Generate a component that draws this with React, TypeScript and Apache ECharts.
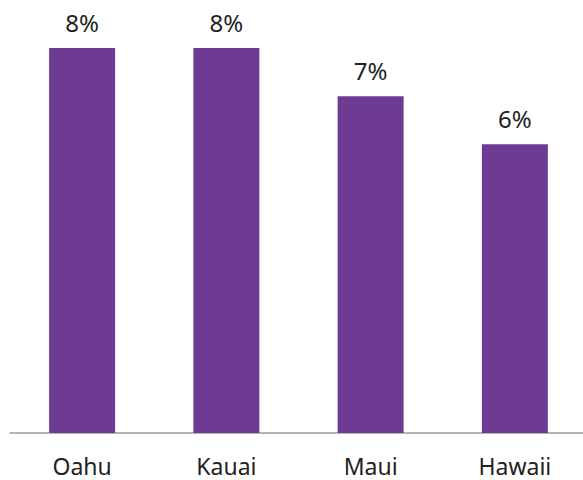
import React, { useEffect, useRef } from "react";
import * as echarts from "echarts";

const categories = ["Oahu", "Kauai", "Maui", "Hawaii"];
const values = [8, 8, 7, 6];

export default function App() {
  const ref = useRef<HTMLDivElement>(null);
  useEffect(() => {
    if (!ref.current) return;
    const chart = echarts.init(ref.current, null, { renderer: "svg" });
    chart.setOption({
      animation: false,
      backgroundColor: "#ffffff",
      grid: { left: 10, right: 0, top: 48, bottom: 47, containLabel: false },
      xAxis: {
        type: "category",
        data: categories,
        axisLine: { lineStyle: { color: "#9a9a9a", width: 1.5 } },
        axisTick: { show: false },
        axisLabel: {
          color: "#222",
          fontSize: 23,
          fontFamily: "Noto Sans",
          margin: 21,
        },
      },
      yAxis: {
        type: "value",
        min: 0,
        max: 8,
        show: false,
        splitLine: { show: false },
      },
      series: [
        {
          type: "bar",
          data: values,
          barWidth: 66,
          itemStyle: { color: "#6d3b94" },
          label: {
            show: true,
            position: "top",
            distance: 14,
            formatter: "{c}%",
            color: "#222",
            fontSize: 24,
            fontFamily: "Noto Sans",
          },
        },
      ],
    });
    return () => chart.dispose();
  }, []);
  return (
    <div
      style={{
        position: "absolute",
        left: 0,
        top: 0,
        width: 583,
        height: 480,
        overflow: "hidden",
      }}
    >
      <div ref={ref} style={{ width: 587, height: 480 }} />
    </div>
  );
}
